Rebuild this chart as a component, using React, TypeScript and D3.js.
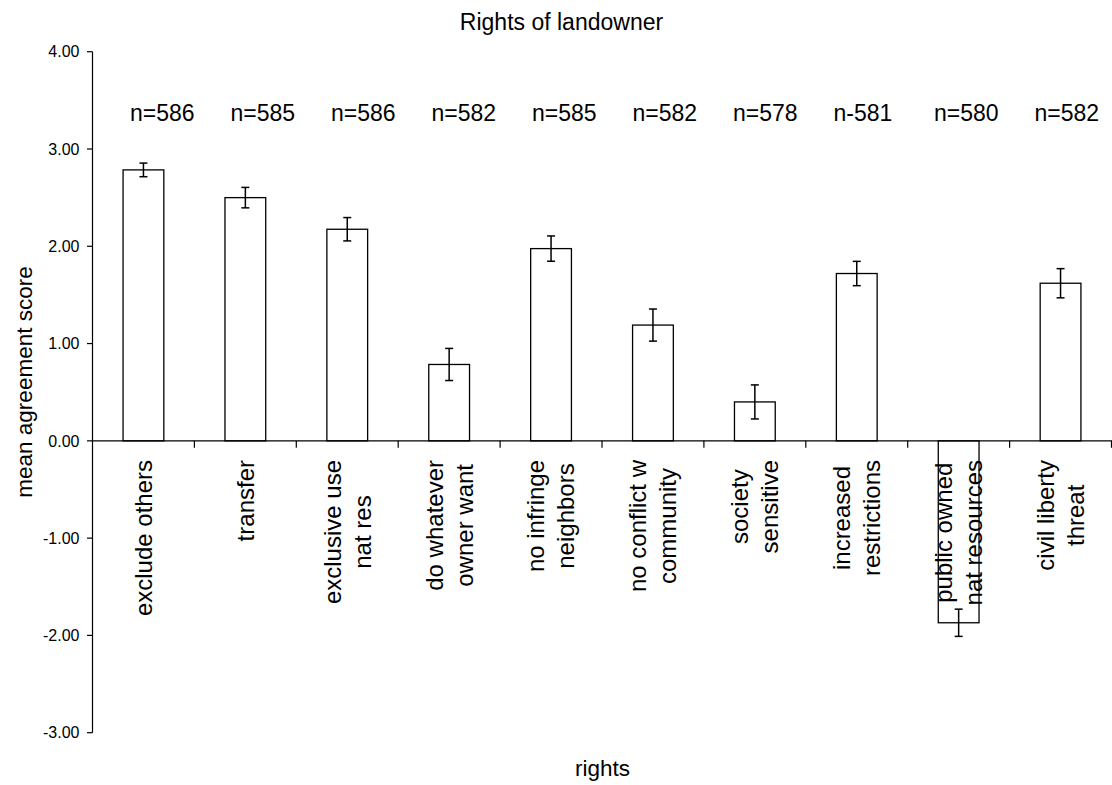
import React, { useEffect, useRef } from "react";
import * as d3 from "d3";

const categories: string[][] = [
  ["exclude others"],
  ["transfer"],
  ["exclusive use", "nat res"],
  ["do whatever", "owner want"],
  ["no infringe", "neighbors"],
  ["no conflict w", "community"],
  ["society", "sensitive"],
  ["increased", "restrictions"],
  ["public owned", "nat resources"],
  ["civil liberty", "threat"],
];
const means: number[] = [2.785, 2.5, 2.175, 0.785, 1.976, 1.19, 0.4, 1.72, -1.87, 1.62];
const errors: number[] = [0.07, 0.105, 0.12, 0.165, 0.13, 0.165, 0.175, 0.125, 0.14, 0.15];
const nLabels: string[] = ["n=586", "n=585", "n=586", "n=582", "n=585", "n=582", "n=578", "n-581", "n=580", "n=582"];
const yTicks: number[] = [-3, -2, -1, 0, 1, 2, 3, 4];

const W = 1112;
const H = 785;
const FONT = "'Liberation Sans', Arial, Helvetica, sans-serif";

export default function App() {
  const ref = useRef<SVGSVGElement | null>(null);

  useEffect(() => {
    const svg = d3.select(ref.current);
    svg.selectAll("*").remove();

    const ids = categories.map((_, i) => String(i));
    const x = d3.scaleBand<string>().domain(ids).range([92.5, 1111.5]).padding(0);
    const y = d3.scaleLinear().domain([-3, 4]).range([732.7, 51.7]);
    const bw = x.bandwidth() * 0.4;

    const g = svg.append("g");

    // Bars
    g.selectAll("rect.bar")
      .data(means)
      .enter()
      .append("rect")
      .attr("class", "bar")
      .attr("x", (_, i) => (x(ids[i]) as number) + x.bandwidth() / 2 - bw / 2)
      .attr("y", (d) => y(Math.max(0, d)))
      .attr("width", bw)
      .attr("height", (d) => Math.abs(y(d) - y(0)))
      .attr("fill", "#fff")
      .attr("stroke", "#000")
      .attr("stroke-width", 1.3);

    // Error bars
    const cap = 4;
    means.forEach((m, i) => {
      const cx = (x(ids[i]) as number) + x.bandwidth() / 2;
      const e = errors[i];
      const eg = g.append("g").attr("stroke", "#000").attr("stroke-width", 1.5);
      eg.append("line").attr("x1", cx).attr("x2", cx).attr("y1", y(m + e)).attr("y2", y(m - e));
      eg.append("line").attr("x1", cx - cap).attr("x2", cx + cap).attr("y1", y(m + e)).attr("y2", y(m + e));
      eg.append("line").attr("x1", cx - cap).attr("x2", cx + cap).attr("y1", y(m - e)).attr("y2", y(m - e));
    });

    // Y axis
    g.append("line")
      .attr("x1", 92.5).attr("x2", 92.5)
      .attr("y1", y(4)).attr("y2", y(-3))
      .attr("stroke", "#000").attr("stroke-width", 1.2);
    yTicks.forEach((t) => {
      g.append("line")
        .attr("x1", 87).attr("x2", 92.5)
        .attr("y1", y(t)).attr("y2", y(t))
        .attr("stroke", "#000").attr("stroke-width", 1.2);
      g.append("text")
        .attr("x", 79.5)
        .attr("y", y(t))
        .attr("dy", "0.36em")
        .attr("text-anchor", "end")
        .attr("font-family", FONT)
        .attr("font-size", 16)
        .attr("fill", "#000")
        .text(t.toFixed(2));
    });

    // Zero line / category axis
    g.append("line")
      .attr("x1", 92.5).attr("x2", 1112)
      .attr("y1", y(0)).attr("y2", y(0))
      .attr("stroke", "#000").attr("stroke-width", 1.2);
    ids.forEach((id, i) => {
      if (i === 0) return;
      const tx = x(id) as number;
      g.append("line")
        .attr("x1", tx).attr("x2", tx)
        .attr("y1", y(0)).attr("y2", y(0) + 7)
        .attr("stroke", "#000").attr("stroke-width", 1.2);
    });
    g.append("line")
      .attr("x1", 1111.5).attr("x2", 1111.5)
      .attr("y1", y(0)).attr("y2", y(0) + 7)
      .attr("stroke", "#000").attr("stroke-width", 1.2);

    // Category labels (rotated)
    const yTop = 460;
    const lineGap = 30;
    categories.forEach((lines, i) => {
      const cx = (x(ids[i]) as number) + x.bandwidth() / 2;
      const texts = lines.map((ln) =>
        g.append("text")
          .attr("text-anchor", "middle")
          .attr("dy", "0.35em")
          .attr("font-family", FONT)
          .attr("font-size", 24)
          .attr("fill", "#000")
          .text(ln)
      );
      const maxLen = d3.max(texts, (t) => (t.node() as SVGTextElement).getComputedTextLength()) || 0;
      texts.forEach((t, j) => {
        const lx = cx + (j - (lines.length - 1) / 2) * lineGap;
        t.attr("transform", `translate(${lx},${yTop + maxLen / 2}) rotate(-90)`);
      });
    });

    // n labels (text boxes placed slightly right of bar centres)
    nLabels.forEach((lab, i) => {
      g.append("text")
        .attr("x", 130 + i * 100.5)
        .attr("y", 121)
        .attr("text-anchor", "start")
        .attr("font-family", FONT)
        .attr("font-size", 23)
        .attr("fill", "#000")
        .text(lab);
    });

    // Title
    g.append("text")
      .attr("x", 561.5).attr("y", 30)
      .attr("text-anchor", "middle")
      .attr("font-family", FONT)
      .attr("font-size", 23)
      .attr("fill", "#000")
      .text("Rights of landowner");

    // X axis title
    g.append("text")
      .attr("x", 602.5).attr("y", 776)
      .attr("text-anchor", "middle")
      .attr("font-family", FONT)
      .attr("font-size", 22.5)
      .attr("fill", "#000")
      .text("rights");

    // Y axis title
    g.append("text")
      .attr("transform", "translate(24,382) rotate(-90)")
      .attr("dy", "0.35em")
      .attr("text-anchor", "middle")
      .attr("font-family", FONT)
      .attr("font-size", 22.5)
      .attr("fill", "#000")
      .text("mean agreement score");
  }, []);

  return (
    <svg
      ref={ref}
      width={W}
      height={H}
      style={{ position: "absolute", left: 0, top: 0, background: "#fff" }}
    />
  );
}
